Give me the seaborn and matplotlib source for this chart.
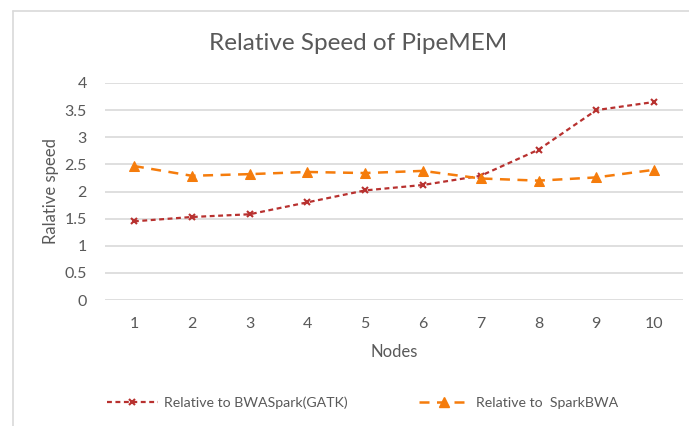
import matplotlib
matplotlib.use("Agg")
import matplotlib.pyplot as plt
import seaborn as sns
import pandas as pd
from matplotlib.lines import Line2D

nodes = [1, 2, 3, 4, 5, 6, 7, 8, 9, 10]
rel_bwaspark = [1.45, 1.53, 1.58, 1.80, 2.02, 2.12, 2.29, 2.77, 3.50, 3.65]
rel_sparkbwa = [2.47, 2.29, 2.32, 2.36, 2.34, 2.38, 2.24, 2.20, 2.26, 2.40]
series_names = ["Relative to BWASpark(GATK)", "Relative to  SparkBWA"]
yticks = [0, 0.5, 1, 1.5, 2, 2.5, 3, 3.5, 4]
ytick_labels = ["0", "0.5", "1", "1.5", "2", "2.5", "3", "3.5", "4"]

sns.set_theme(style="white")
plt.rcParams['font.family'] = ['Lato', 'DejaVu Sans']

red = "#b8312f"
orange = "#f57c0c"
txt = "#595959"

fig = plt.figure(figsize=(6.89, 4.26), dpi=100)
ax = fig.add_axes([105/689, 1-300/426, (683-105)/689, (300-83)/426])

df1 = pd.DataFrame({"Nodes": nodes, "v": rel_bwaspark})
df2 = pd.DataFrame({"Nodes": nodes, "v": rel_sparkbwa})
sns.lineplot(data=df1, x="Nodes", y="v", ax=ax, color=red, lw=1.6,
             marker="x", markersize=5, markeredgewidth=1.5, markeredgecolor=red,
             linestyle=(0, (2.2, 1.6)))
sns.lineplot(data=df2, x="Nodes", y="v", ax=ax, color=orange, lw=1.8,
             marker="^", markersize=6.5, markeredgecolor=orange,
             linestyle=(0, (4, 3)))

ax.set_xlim(0.5, 10.5)
ax.set_ylim(0, 4)
ax.set_yticks(yticks)
ax.set_yticklabels(ytick_labels)
ax.set_xticks(nodes)
ax.set_xticklabels([str(n) for n in nodes])
ax.yaxis.grid(True, color="#d9d9d9", lw=1.2)
ax.set_axisbelow(True)
for s in ax.spines.values():
    s.set_visible(False)
ax.tick_params(axis="both", length=0, labelsize=11.5, labelcolor=txt)
ax.tick_params(axis="y", pad=13)
ax.tick_params(axis="x", pad=12)
ax.set_xlabel("Nodes", fontsize=12, color=txt)
ax.set_ylabel("Ralative speed", fontsize=12, color=txt)
ax.yaxis.set_label_coords(-(105-59)/578, 0.5)
ax.xaxis.set_label_coords(0.5, -(344-300)/217)

fig.text(358/689, 1-43/426, "Relative Speed of PipeMEM", ha="center", va="center",
         fontsize=17.5, color=txt)

handles = [Line2D([], [], color=red, lw=1.6, linestyle=(0, (2.2, 1.6)), marker="x",
                  markersize=5, markeredgewidth=1.5),
           Line2D([], [], color=orange, lw=1.8, linestyle=(0, (4, 3)), marker="^",
                  markersize=6.5)]
fig.legend(handles, series_names, loc="center", bbox_to_anchor=(0.526, 1-403/426),
           ncol=2, frameon=False, fontsize=10.2, labelcolor=txt, handlelength=3.6,
           columnspacing=5.0, handletextpad=0.45)

# chart border (left and top)
fig.add_artist(Line2D([13/689, 13/689], [0, 1-11/426], transform=fig.transFigure,
                      color="#d9d9d9", lw=1.2))
fig.add_artist(Line2D([13/689, 1], [1-11/426, 1-11/426], transform=fig.transFigure,
                      color="#d9d9d9", lw=1.2))

fig.savefig("out.png", dpi=100)
